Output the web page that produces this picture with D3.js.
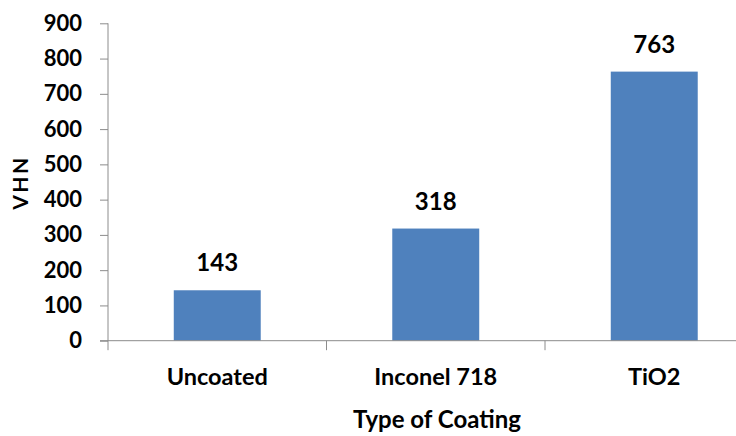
<!DOCTYPE html>
<html>
<head>
<meta charset="utf-8">
<script src="https://cdn.jsdelivr.net/npm/d3@7"></script>
<style>
  html, body { margin: 0; padding: 0; background: #fff; }
  svg { display: block; }
  text { font-family: Lato, "Noto Sans", sans-serif; font-weight: 700; fill: #000; }
</style>
</head>
<body>
<div id="chart"></div>
<script>
const categories = ["Uncoated", "Inconel 718", "TiO2"];
const values = [143, 318, 763];
const yTicks = [0, 100, 200, 300, 400, 500, 600, 700, 800, 900];
const yTitle = "VHN";
const xTitle = "Type of Coating";

const W = 736, H = 436;
const svg = d3.select("#chart").append("svg").attr("width", W).attr("height", H);

const pLeft = 108, pRight = 763.5, pTop = 23.3, pBottom = 340.7;
const axisColor = "#8c8c8c";
const barColor = "#4f81bd";

const x = d3.scaleBand().domain(categories).range([pLeft, pRight]).paddingInner(0.602).paddingOuter(0.301);
const y = d3.scaleLinear().domain([0, 900]).range([pBottom, pTop]);

// Bars
svg.selectAll("rect.bar").data(categories).enter().append("rect")
  .attr("class", "bar")
  .attr("x", (d) => x(d))
  .attr("width", x.bandwidth())
  .attr("y", (d, i) => y(values[i]))
  .attr("height", (d, i) => y(0) - y(values[i]))
  .attr("fill", barColor);

// Value labels
svg.selectAll("text.val").data(categories).enter().append("text")
  .attr("class", "val")
  .attr("x", (d) => x(d) + x.bandwidth() / 2)
  .attr("y", (d, i) => y(values[i]) - 19)
  .attr("text-anchor", "middle")
  .style("font-size", "24px")
  .text((d, i) => values[i]);

// Y axis
const yAxis = d3.axisLeft(y).tickValues(yTicks).tickSize(8).tickPadding(18).tickSizeOuter(0);
const gy = svg.append("g").attr("transform", `translate(${pLeft},0)`).call(yAxis);
gy.select(".domain").attr("stroke", axisColor).attr("d", `M0,${pTop}V${pBottom + 9.5}`);
gy.selectAll(".tick line").attr("stroke", axisColor);
gy.selectAll(".tick text").style("font-size", "22px").attr("fill", "#000")
  .style("font-family", "Lato, sans-serif").style("font-weight", 700);

// X axis
const xAxis = d3.axisBottom(x).tickSize(0).tickPadding(28).tickSizeOuter(0);
const gx = svg.append("g").attr("transform", `translate(0,${pBottom})`).call(xAxis);
gx.select(".domain").attr("stroke", axisColor).attr("d", `M${pLeft - 8},0H${pRight}`);
gx.selectAll(".tick text").style("font-size", "23.5px").attr("fill", "#000")
  .style("font-family", "Lato, sans-serif").style("font-weight", 700);

// category boundary ticks
const bounds = categories.map((d) => x(d) - x.step() * x.paddingInner() / 2).slice(1);
gx.selectAll("line.sep").data(bounds).enter().append("line")
  .attr("class", "sep")
  .attr("x1", (d) => d).attr("x2", (d) => d)
  .attr("y1", 0).attr("y2", 9.5)
  .attr("stroke", axisColor);

// Axis titles
svg.append("text")
  .attr("transform", `translate(28,182.5) rotate(-90)`)
  .attr("text-anchor", "middle")
  .style("font-size", "21px")
  .style("letter-spacing", "2.5px")
  .text(yTitle);

svg.append("text")
  .attr("x", 437)
  .attr("y", 428)
  .attr("text-anchor", "middle")
  .style("font-size", "24px")
  .text(xTitle);
</script>
</body>
</html>
